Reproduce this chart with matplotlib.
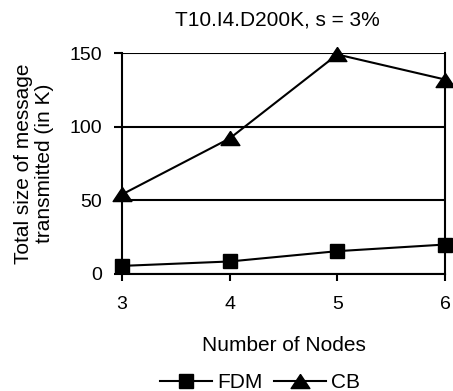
import matplotlib
matplotlib.use("Agg")
import matplotlib.pyplot as plt

nodes = [3, 4, 5, 6]
fdm = [5.5, 8.5, 15.5, 20]
cb = [54, 92, 149, 132]
yticks = [0, 50, 100, 150]

plt.rcParams['font.family'] = ['Liberation Sans', 'DejaVu Sans']

fig = plt.figure(figsize=(4.53, 3.91), dpi=100)
W, H = 453, 391
ax = fig.add_axes([122 / W, 1 - 274 / H, (445 - 122) / W, (274 - 53) / H])

tri = [(0, 0.75), (-1, -0.75), (1, -0.75), (0, 0.75)]
ax.plot(nodes, fdm, color='black', lw=1.5, marker='s', ms=10, clip_on=False, label='FDM', zorder=3)
ax.plot(nodes, cb, color='black', lw=1.5, marker=tri, ms=13.5, clip_on=False, label='CB', zorder=3)

ax.set_xlim(3, 6)
ax.set_ylim(0, 150)
ax.set_xticks(nodes)
ax.set_yticks(yticks)
ax.yaxis.grid(True, color='black', lw=1.5)
for s in ['left', 'bottom', 'right']:
    ax.spines[s].set_linewidth(1.5)
ax.spines['top'].set_visible(False)
ax.tick_params(axis='both', labelsize=14, width=1.5, direction='out')
ax.tick_params(axis='x', length=5, pad=10.5)
ax.tick_params(axis='y', length=5.5, pad=9)

ax.set_xlabel('Number of Nodes', fontsize=15, labelpad=17)
ax.set_ylabel('Total size of message\ntransmitted (in K)', fontsize=15, labelpad=11,
              linespacing=1.1, multialignment='center')
ax.set_title('T10.I4.D200K, s = 3%', fontsize=15, pad=20, x=0.48)

fig.legend(loc='center', bbox_to_anchor=(0.574, 1 - 383 / H), ncol=2, frameon=False,
           fontsize=15, handlelength=2.5, columnspacing=0.55, handletextpad=0.25)

fig.savefig('out.png', dpi=100)
